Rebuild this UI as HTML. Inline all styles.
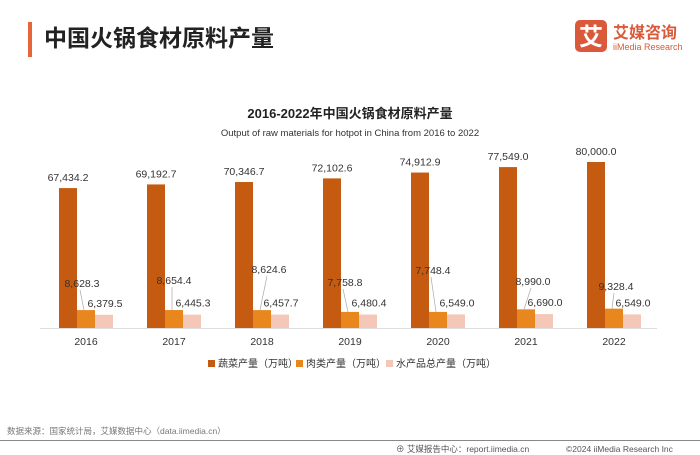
<!DOCTYPE html>
<html><head><meta charset="utf-8">
<style>
body{margin:0;background:#fff;}
#root{position:relative;width:700px;height:455px;overflow:hidden;background:#fff;font-family:"Liberation Sans","Noto Sans CJK SC",sans-serif;}
</style></head>
<body>
<div id="root">
<svg width="700" height="455" xmlns="http://www.w3.org/2000/svg" id="chart" font-family="Liberation Sans, Noto Sans CJK SC, sans-serif">
  <rect x="28" y="22" width="4" height="35" fill="#e8643a"/>
  <text x="44" y="46" font-size="23" font-weight="bold" fill="#222">中国火锅食材原料产量</text>
  <g>
    <rect x="575" y="20" width="32" height="32" rx="5" fill="#d9593a"/>
    <text x="591" y="45" font-size="24" font-weight="bold" fill="#fff" text-anchor="middle">艾</text>
    <text x="613" y="38" font-size="16" font-weight="bold" fill="#d9593a">艾媒咨询</text>
    <text x="613" y="50" font-size="9" fill="#d9593a">iiMedia Research</text>
  </g>
  <text x="350" y="118" font-size="13" font-weight="bold" fill="#222" text-anchor="middle">2016-2022年中国火锅食材原料产量</text>
  <text x="350" y="136" font-size="9.5" fill="#333" text-anchor="middle">Output of raw materials for hotpot in China from 2016 to 2022</text>
  <line x1="40" y1="328.5" x2="657" y2="328.5" stroke="#ddd" stroke-width="1"/>
  <g id="marks"></g>
  <g font-size="10" fill="#333">
    <rect x="208" y="360" width="7" height="7" fill="#c55a11"/>
    <text x="218" y="367">蔬菜产量（万吨）</text>
    <rect x="296" y="360" width="7" height="7" fill="#e8871e"/>
    <text x="306" y="367">肉类产量（万吨）</text>
    <rect x="386" y="360" width="7" height="7" fill="#f4c7b8"/>
    <text x="396" y="367">水产品总产量（万吨）</text>
  </g>
  <text x="7" y="434" font-size="8.5" fill="#777">数据来源：国家统计局，艾媒数据中心（data.iimedia.cn）</text>
  <line x1="0" y1="440.5" x2="700" y2="440.5" stroke="#888" stroke-width="1"/>
  <text x="396" y="452" font-size="8.5" fill="#555">⊕ 艾媒报告中心：report.iimedia.cn</text>
  <text x="566" y="452" font-size="8.5" fill="#555">©2024  iiMedia Research  Inc</text>
</svg>
</div>
<script>
const categories = ["2016","2017","2018","2019","2020","2021","2022"];
const vegValues = [67434.2,69192.7,70346.7,72102.6,74912.9,77549.0,80000.0];
const meatValues = [8628.3,8654.4,8624.6,7758.8,7748.4,8990.0,9328.4];
const aquaValues = [6379.5,6445.3,6457.7,6480.4,6549.0,6690.0,6549.0];
// meat label layout offsets (px) relative to the meat bar
const meatLabelDx = [-4,0,7,-5,-5,7,2];
const meatLabelY = [287,284,273,286,274,285,290];

const NS="http://www.w3.org/2000/svg";
const g=document.getElementById('marks');
const baseY=328, maxV=80000, plotH=166;
const x0=86, step=88, bw=18;
function xCenter(i){return x0+i*step;}
function yScale(v){return baseY - v/maxV*plotH;}
function fmt(v){return v.toLocaleString('en-US',{minimumFractionDigits:1,maximumFractionDigits:1});}
function mk(tag,attrs){const e=document.createElementNS(NS,tag);for(const k in attrs)e.setAttribute(k,attrs[k]);g.appendChild(e);return e;}

categories.forEach((c,i)=>{
  const cx=xCenter(i);
  const series=[[vegValues[i],'#c55a11',cx-bw*1.5,'vegetables'],[meatValues[i],'#e8871e',cx-bw/2,'meat'],[aquaValues[i],'#f4c7b8',cx+bw/2,'aquatic']];
  series.forEach(([v,col,x,nm])=>{
    const y=yScale(v);
    const r=mk('rect',{x:x,y:y,width:bw,height:baseY-y,fill:col});
    
    
  });
  const vy=yScale(vegValues[i]);
  const t1=mk('text',{x:cx-bw,y:vy-7,'font-size':10.5,fill:'#333','text-anchor':'middle'});
  t1.textContent=fmt(vegValues[i]);
  
  
  const mx=cx+meatLabelDx[i], my=meatLabelY[i];
  const myTop=yScale(meatValues[i]);
  const ln=mk('line',{x1:mx-2,y1:my+3,x2:cx-2,y2:myTop,stroke:'#aaa','stroke-width':0.7});
  
  
  const t2=mk('text',{x:mx,y:my,'font-size':10.5,fill:'#333','text-anchor':'middle'});
  t2.textContent=fmt(meatValues[i]);
  
  
  const t3=mk('text',{x:cx+bw+1,y:yScale(aquaValues[i])-8,'font-size':10.5,fill:'#333','text-anchor':'middle'});
  t3.textContent=fmt(aquaValues[i]);
  
  
  const t4=mk('text',{x:cx,y:345,'font-size':10.5,fill:'#333','text-anchor':'middle'});
  t4.textContent=c;
  
  
});
</script>
</body></html>
